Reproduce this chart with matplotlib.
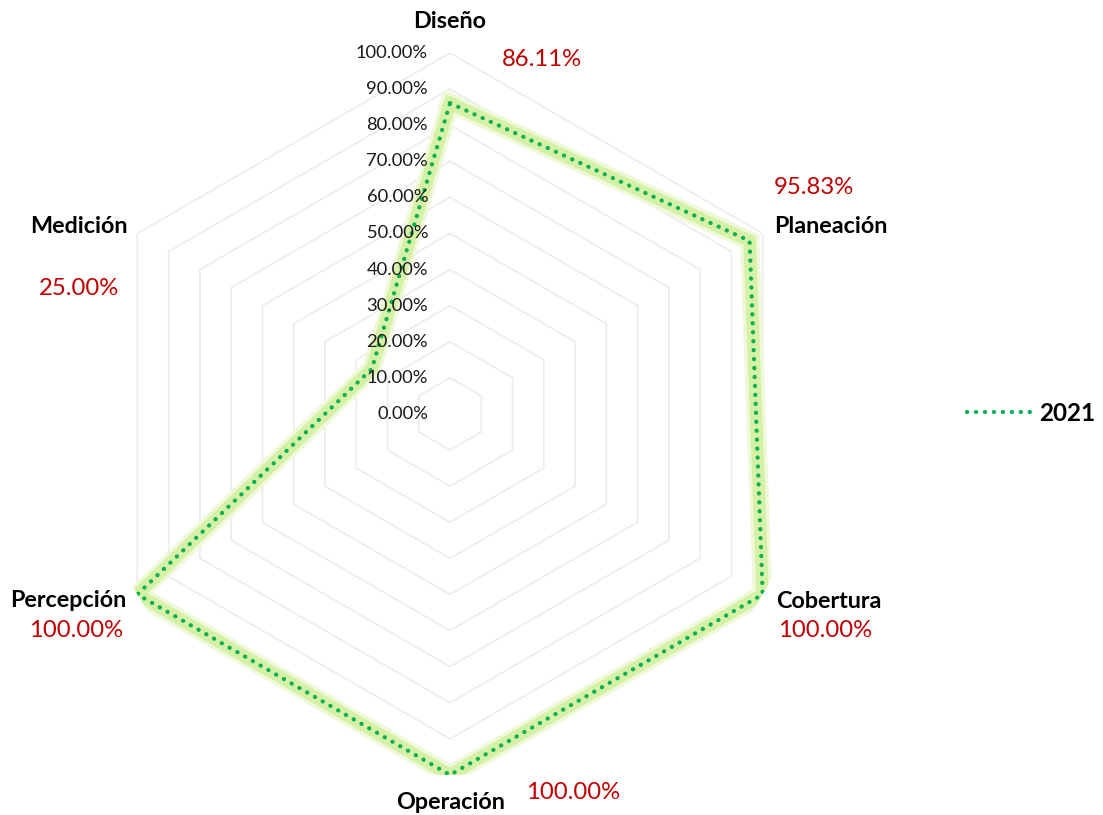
import numpy as np
import matplotlib
matplotlib.use('Agg')
from matplotlib import pyplot as plt
from matplotlib.lines import Line2D

plt.rcParams['font.family'] = ['Lato', 'DejaVu Sans']

categories = ['Diseño', 'Planeación', 'Cobertura', 'Operación', 'Percepción', 'Medición']
values_2021 = [86.11, 95.83, 100.00, 100.00, 100.00, 25.00]
ring_levels = [0, 10, 20, 30, 40, 50, 60, 70, 80, 90, 100]
series_name = '2021'

# label offsets (pixels) from the 100% vertex, Excel style placement
cat_offsets = [(0, 31), (68, 7), (66, -7), (1, -28), (-69, -6), (-59, 7)]
val_offsets = [(92, -7), (51, 46), (62, -36), (123, -18), (-61, -36), (-58, -55)]

px = 0.72  # points per pixel at dpi 100
dots = (0, (0.05, 2.1))

fig = plt.figure(figsize=(11.03, 8.15), dpi=100)
ax = fig.add_axes([0.0807, 0.0491, 0.6546, 0.886], projection='polar')
ax.set_theta_zero_location('N')
ax.set_theta_direction(-1)
ax.set_ylim(0, 100)
ax.grid(False)
ax.spines['polar'].set_visible(False)
ax.set_xticks([])
ax.set_yticks([])

n = len(categories)
theta = np.arange(n) * 2 * np.pi / n
theta_c = np.append(theta, theta[0])

# hexagon grid
for lv in ring_levels[1:]:
    ax.plot(theta_c, [lv] * (n + 1), color='#ececec', lw=1.2, zorder=1)

# series with glow
vals_c = np.append(values_2021, values_2021[0])
ax.plot(theta_c, vals_c, color='#eef9da', lw=14, solid_joinstyle='miter', zorder=2)
ax.plot(theta_c, vals_c, color='#d6f0a6', lw=9, solid_joinstyle='miter', zorder=2)
ax.plot(theta_c, vals_c, color='#00b050', lw=3.0, linestyle=dots,
        dash_capstyle='round', zorder=3)

# radial tick labels
for lv in ring_levels:
    ax.annotate(f'{lv:.2f}%', xy=(0, lv), xytext=(-22 * px, 0), textcoords='offset points',
                ha='right', va='center', fontsize=13.2, color='#1a1a1a', annotation_clip=False)

# category and value labels
for i in range(n):
    dx, dy = cat_offsets[i]
    ax.annotate(categories[i], xy=(theta[i], 100), xytext=(dx * px, dy * px),
                textcoords='offset points', ha='center', va='center', fontsize=16.8,
                fontweight='bold', color='black', annotation_clip=False)
    dx, dy = val_offsets[i]
    ax.annotate(f'{values_2021[i]:.2f}%', xy=(theta[i], 100), xytext=(dx * px, dy * px),
                textcoords='offset points', ha='center', va='center', fontsize=17.2,
                color='#c00000', annotation_clip=False)

handle = Line2D([], [], color='#00b050', lw=3.0, linestyle=dots, dash_capstyle='round')
fig.legend([handle], [series_name], loc='center left', bbox_to_anchor=(0.857, 0.493),
           frameon=False, handlelength=2.9, handletextpad=0.05,
           prop={'weight': 'bold', 'size': 17.5})

fig.savefig('out.png', dpi=100)
